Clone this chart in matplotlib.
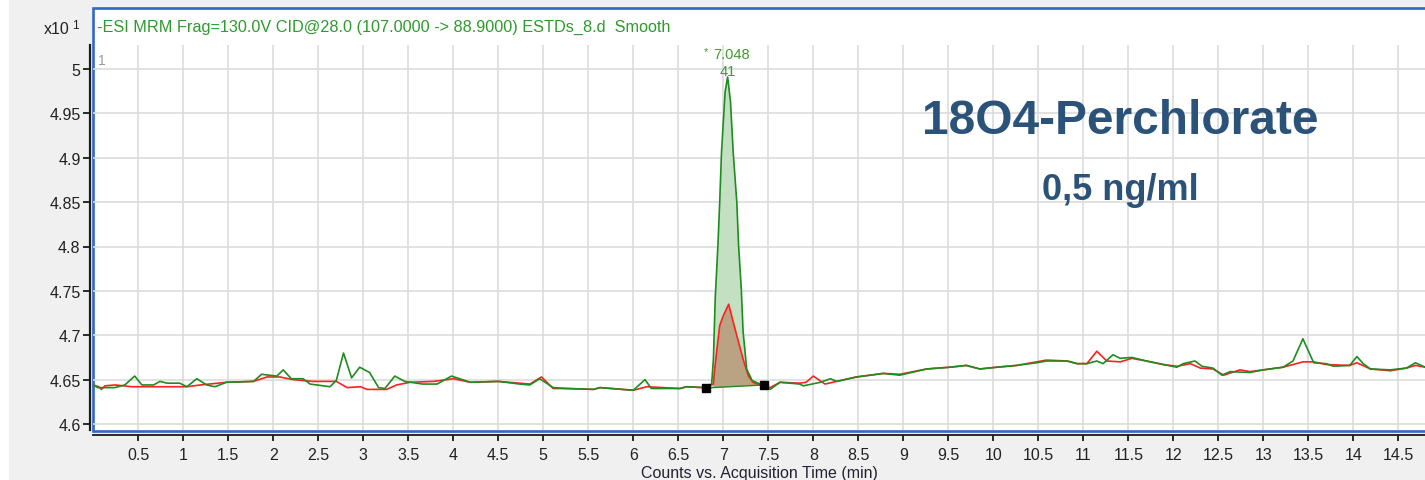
import matplotlib
matplotlib.use("Agg")
import matplotlib.pyplot as plt
from matplotlib.patches import Rectangle, Polygon
import numpy as np

# ---- chromatogram data (time in min, counts x10^1) ----
green_t = [0.00, 0.05, 0.24, 0.35, 0.46, 0.54, 0.67, 0.74, 0.82, 0.96, 1.04, 1.15, 1.26, 1.35,
           1.48, 1.78, 1.87, 2.04, 2.11, 2.20, 2.33, 2.41, 2.63, 2.70, 2.78, 2.87, 2.96, 3.07,
           3.17, 3.24, 3.35, 3.46, 3.66, 3.82, 3.98, 4.07, 4.19, 4.50, 4.74, 4.85, 4.96, 5.11,
           5.26, 5.56, 5.63, 6.00, 6.13, 6.20, 6.52, 6.59, 6.78, 6.87, 6.89, 6.91, 6.94, 6.96,
           6.98, 7.02, 7.048, 7.08, 7.11, 7.15, 7.17, 7.20, 7.22, 7.26, 7.32, 7.41, 7.48, 7.52,
           7.63, 7.85, 7.89, 8.08, 8.19, 8.26, 8.48, 8.78, 8.96, 9.26, 9.52, 9.70, 9.85, 10.04,
           10.26, 10.48, 10.59, 10.82, 10.93, 11.04, 11.15, 11.22, 11.33, 11.41, 11.54, 11.70,
           11.89, 12.04, 12.11, 12.24, 12.32, 12.44, 12.54, 12.63, 12.85, 13.00, 13.22, 13.33,
           13.44, 13.56, 13.70, 13.78, 13.96, 14.04, 14.11, 14.19, 14.41, 14.59, 14.69, 14.80]
green_v = [4.644, 4.641, 4.641, 4.644, 4.654, 4.644, 4.644, 4.648, 4.646, 4.646, 4.642, 4.651,
           4.644, 4.642, 4.647, 4.648, 4.656, 4.654, 4.661, 4.651, 4.651, 4.645, 4.642, 4.649,
           4.680, 4.652, 4.664, 4.658, 4.641, 4.640, 4.654, 4.648, 4.645, 4.645, 4.654, 4.651,
           4.647, 4.648, 4.645, 4.644, 4.651, 4.641, 4.640, 4.639, 4.641, 4.638, 4.650, 4.640,
           4.640, 4.642, 4.641, 4.645, 4.673, 4.741, 4.801, 4.850, 4.906, 4.974, 4.991, 4.963,
           4.906, 4.850, 4.801, 4.752, 4.704, 4.662, 4.649, 4.645, 4.641, 4.639, 4.647, 4.645,
           4.643, 4.647, 4.651, 4.648, 4.653, 4.657, 4.655, 4.662, 4.664, 4.666, 4.662, 4.664,
           4.666, 4.669, 4.671, 4.671, 4.668, 4.668, 4.671, 4.668, 4.678, 4.674, 4.675, 4.671,
           4.667, 4.664, 4.668, 4.671, 4.665, 4.663, 4.655, 4.659, 4.658, 4.661, 4.664, 4.671,
           4.696, 4.669, 4.668, 4.665, 4.666, 4.676, 4.668, 4.662, 4.661, 4.663, 4.669, 4.664]

red_t = [0.00, 0.06, 0.09, 0.13, 0.24, 0.43, 1.04, 1.19, 1.48, 1.78, 1.93, 2.07, 2.22, 2.44,
         2.70, 2.82, 2.97, 3.04, 3.26, 3.37, 3.52, 3.78, 4.00, 4.19, 4.50, 4.85, 4.98, 5.11,
         5.26, 5.56, 5.63, 6.00, 6.15, 6.52, 6.59, 6.78, 6.89, 6.90, 6.93, 6.96, 7.00, 7.06,
         7.11, 7.17, 7.22, 7.28, 7.33, 7.41, 7.52, 7.63, 7.85, 7.92, 8.00, 8.13, 8.26, 8.48,
         8.78, 8.96, 9.26, 9.52, 9.70, 9.85, 10.04, 10.26, 10.48, 10.59, 10.82, 10.93, 11.04,
         11.15, 11.26, 11.41, 11.54, 11.70, 11.89, 12.04, 12.19, 12.30, 12.44, 12.56, 12.74,
         12.85, 13.00, 13.22, 13.44, 13.56, 13.70, 13.96, 14.04, 14.19, 14.41, 14.59, 14.69, 14.80]
red_v = [4.644, 4.642, 4.639, 4.643, 4.644, 4.642, 4.642, 4.644, 4.647, 4.648, 4.653, 4.653,
         4.650, 4.648, 4.648, 4.641, 4.642, 4.639, 4.639, 4.644, 4.647, 4.648, 4.651, 4.647,
         4.648, 4.645, 4.653, 4.640, 4.640, 4.639, 4.641, 4.638, 4.642, 4.640, 4.642, 4.641,
         4.645, 4.658, 4.685, 4.711, 4.722, 4.735, 4.715, 4.692, 4.673, 4.654, 4.647, 4.644,
         4.641, 4.647, 4.646, 4.647, 4.654, 4.645, 4.648, 4.653, 4.657, 4.656, 4.662, 4.664,
         4.666, 4.662, 4.664, 4.666, 4.670, 4.672, 4.671, 4.668, 4.668, 4.682, 4.671, 4.670,
         4.674, 4.671, 4.667, 4.665, 4.668, 4.663, 4.662, 4.655, 4.661, 4.659, 4.661, 4.664,
         4.670, 4.670, 4.667, 4.666, 4.669, 4.662, 4.660, 4.663, 4.666, 4.664]

# integration baseline end points
base_t = [6.81, 7.45]
base_v = [4.6406, 4.644]

peak_rt = 7.048
peak_label = "41"

x_ticks = [0.5 * i for i in range(1, 30)]
y_ticks = [4.6, 4.65, 4.7, 4.75, 4.8, 4.85, 4.9, 4.95, 5.0]

title_text = "-ESI MRM Frag=130.0V CID@28.0 (107.0000 -> 88.9000) ESTDs_8.d  Smooth"
compound = "18O4-Perchlorate"
concentration = "0,5 ng/ml"

# ---- figure ----
W, H = 1425, 481
plt.rcParams["font.family"] = ["Liberation Sans", "DejaVu Sans"]
fig = plt.figure(figsize=(W / 100, H / 100), dpi=100, facecolor="#f0f0f0")


def fx(px):
    return px / W


def fy(py):
    return 1 - py / H


# white strip on the far left
fig.patches.append(Rectangle((0, 0), fx(9), 1, transform=fig.transFigure,
                             facecolor="white", edgecolor="none", zorder=-5))
# white chart panel with blue border
fig.patches.append(Rectangle((fx(93), fy(432)), fx(1340), fy(9) - fy(432),
                             transform=fig.transFigure, facecolor="white",
                             edgecolor="#3168c6", linewidth=1.9, zorder=-5))

ax = fig.add_axes([fx(93.3), fy(431), fx(1425) - fx(93.3), fy(46) - fy(431)])
ax.set_facecolor("none")
xmin, xmax = 0.0, (1425 - 93.3) / 90.0
ymin, ymax = 4.6 - 6 / 887.5, 4.6 + (425 - 46) / 887.5
ax.set_xlim(xmin, xmax)
ax.set_ylim(ymin, ymax)

ax.set_xticks(x_ticks)
ax.set_xticklabels([f"{v:g}" for v in x_ticks])
ax.set_yticks(y_ticks)
ax.set_yticklabels([f"{v:g}" for v in y_ticks])
ax.grid(True, color="#dcdcdc", linewidth=1.2, zorder=0)
ax.set_axisbelow(True)

for s in ["top", "right"]:
    ax.spines[s].set_visible(False)
ax.spines["left"].set_position(("outward", 2.2))
ax.spines["bottom"].set_position(("outward", 3.6))
ax.spines["left"].set_linewidth(1.6)
ax.spines["bottom"].set_linewidth(1.3)
ax.spines["left"].set_color("#1a1a1a")
ax.spines["bottom"].set_color("#1a1a1a")
ax.tick_params(axis="y", direction="out", length=5, width=1.3, color="#1a1a1a",
               labelsize=11.5, labelcolor="#222222", pad=2)
ax.tick_params(axis="x", direction="out", length=4, width=1.3, color="#1a1a1a",
               labelsize=11.5, labelcolor="#222222", pad=5)
ax.set_xlabel("Counts vs. Acquisition Time (min)", fontsize=11.5, color="#222233", labelpad=2)

# peak areas
gt = np.array(green_t)
gv = np.array(green_v)
rt = np.array(red_t)
rv = np.array(red_v)


def base_at(t):
    return np.interp(t, base_t, base_v)


gm = (gt >= 6.87) & (gt <= 7.41)
g_poly = list(zip(gt[gm], gv[gm])) + [(gt[gm][-1], base_at(gt[gm][-1])), (gt[gm][0], base_at(gt[gm][0]))]
ax.add_patch(Polygon(g_poly, closed=True, facecolor="#c3e0c3", edgecolor="none", zorder=2))
rm = (rt >= 6.89) & (rt <= 7.41)
r_poly = list(zip(rt[rm], rv[rm])) + [(rt[rm][-1], base_at(rt[rm][-1])), (rt[rm][0], base_at(rt[rm][0]))]
ax.add_patch(Polygon(r_poly, closed=True, facecolor="#b9a383", edgecolor="none", zorder=2))

ax.plot(red_t, red_v, color="#ff2020", linewidth=1.2, zorder=3)
ax.plot(green_t, green_v, color="#1e8c1e", linewidth=1.2, zorder=4)
ax.plot(base_t, base_v, color="#1e8c1e", linewidth=1.0, zorder=4)
ax.plot(base_t, base_v, linestyle="none", marker="s", markersize=6,
        color="black", zorder=5)

# peak annotation
peak_val = float(np.interp(peak_rt, green_t, green_v))
ax.annotate(f"{peak_rt:.3f}", (peak_rt, peak_val), xytext=(3, 16.5), textcoords="offset points",
            ha="center", va="center", fontsize=10.5, color="#3f9a30")
ax.annotate("*", (peak_rt, peak_val), xytext=(-15.5, 18.5), textcoords="offset points",
            ha="center", va="center", fontsize=8, color="#3f9a30")
ax.annotate(peak_label, (peak_rt, peak_val), xytext=(0, 4), textcoords="offset points",
            ha="center", va="center", fontsize=10.5, color="#3f9a30")

# compound name and concentration
ax.text(fx(1120), fy(122), compound, transform=fig.transFigure, ha="center", va="center",
        fontsize=34.5, fontweight="bold", color="#2b5279")
ax.text(fx(1120), fy(190), concentration, transform=fig.transFigure, ha="center", va="center",
        fontsize=26, fontweight="bold", color="#2b5279")

# header texts
fig.text(fx(97), fy(27), title_text, ha="left", va="center", fontsize=11.7, color="#2e9a2e")
fig.text(fx(70), fy(30), "x10", ha="right", va="center", fontsize=11.5, color="#222222")
fig.text(fx(72), fy(26), "1", ha="left", va="center", fontsize=8.5, color="#222222")
fig.text(fx(98), fy(61), "1", ha="left", va="center", fontsize=10, color="#9a9a9a")

fig.savefig("out.png", dpi=100, facecolor=fig.get_facecolor())
